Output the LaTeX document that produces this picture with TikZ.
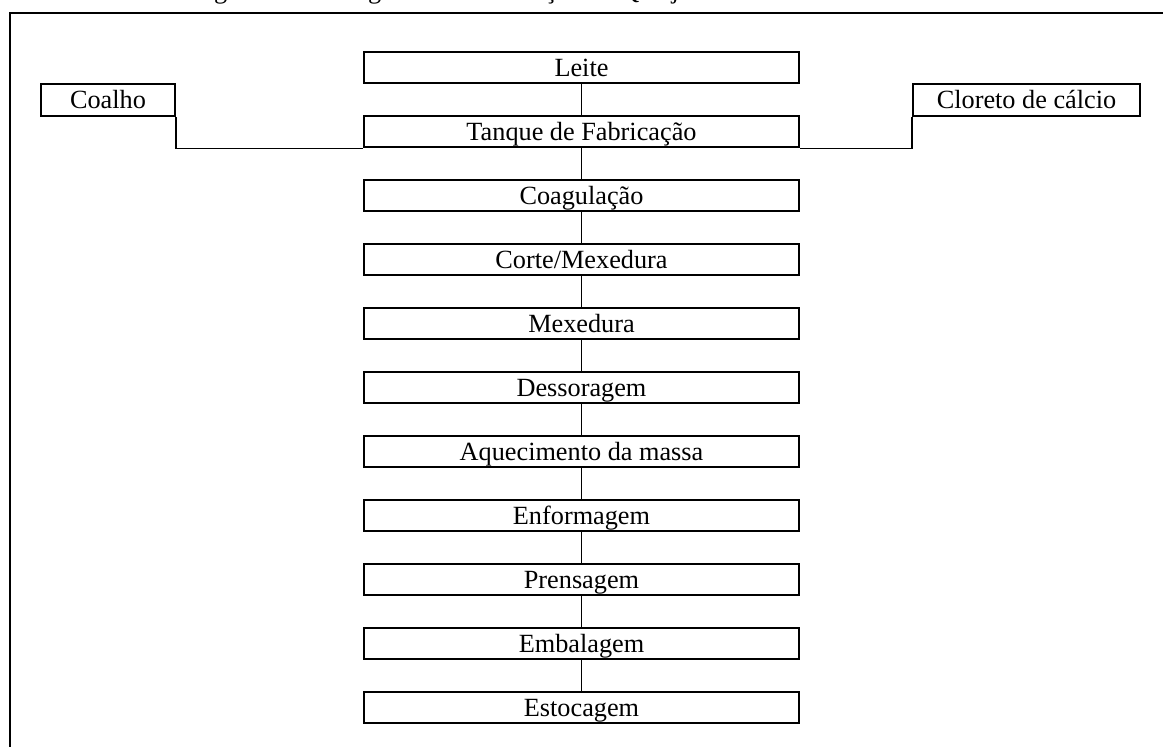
\documentclass[tikz,border=0pt]{standalone}
\usepackage{fontspec}
\setmainfont{Liberation Serif}
\begin{document}
\begin{tikzpicture}[x=0.75pt,y=-0.75pt,
  txt/.style={font=\fontsize{19.7}{23.6}\selectfont},
  stage/.style={txt, draw, line width=1.5pt, minimum width=326.25pt, minimum height=23.6pt,
    inner sep=0pt, text height=16.2pt, text depth=3pt},
  side/.style={txt, draw, line width=1.5pt, minimum height=24pt,
    inner sep=0pt, text height=16.2pt, text depth=3pt},
  conn/.style={line width=1.4pt}]
\useasboundingbox (0,0) rectangle (1163,746);
\clip (0,0) rectangle (1163,746);
% frame (cut by the page)
\coordinate (fbl) at (9.5,760);
\coordinate (ftl) at (9.5,12.7);
\coordinate (ftr) at (1180,12.7);
\draw[line width=1.5pt] (fbl) -- (ftl) -- (ftr);
% cropped caption
\node[txt, anchor=base west, inner sep=0pt] (cap) at (192,-1.5) {Figura 1 – Fluxograma de fabricação do Queijo};
% main stages
\node[stage] (s0) at (581.5,67.75) {Leite};
\node[stage] (s1) at (581.5,131.75) {Tanque de Fabricação};
\node[stage] (s2) at (581.5,195.75) {Coagulação};
\node[stage] (s3) at (581.5,259.75) {Corte/Mexedura};
\node[stage] (s4) at (581.5,323.75) {Mexedura};
\node[stage] (s5) at (581.5,387.75) {Dessoragem};
\node[stage] (s6) at (581.5,451.75) {Aquecimento da massa};
\node[stage] (s7) at (581.5,515.75) {Enformagem};
\node[stage] (s8) at (581.5,579.75) {Prensagem};
\node[stage] (s9) at (581.5,643.75) {Embalagem};
\node[stage] (s10) at (581.5,707.75) {Estocagem};
% side inputs
\node[side, minimum width=100.5pt] (coalho) at (108,100) {Coalho};
\node[side, minimum width=170.25pt] (cloreto) at (1026.5,100) {Cloreto de cálcio};
% connectors
\foreach \a/\b in {s0/s1,s1/s2,s2/s3,s3/s4,s4/s5,s5/s6,s6/s7,s7/s8,s8/s9,s9/s10}
  \draw[conn] (\a.south) -- (\b.north);
\draw[conn] (coalho.south east) |- (s1.south west);
\draw[conn] (cloreto.south west) |- (s1.south east);
\end{tikzpicture}
\end{document}
